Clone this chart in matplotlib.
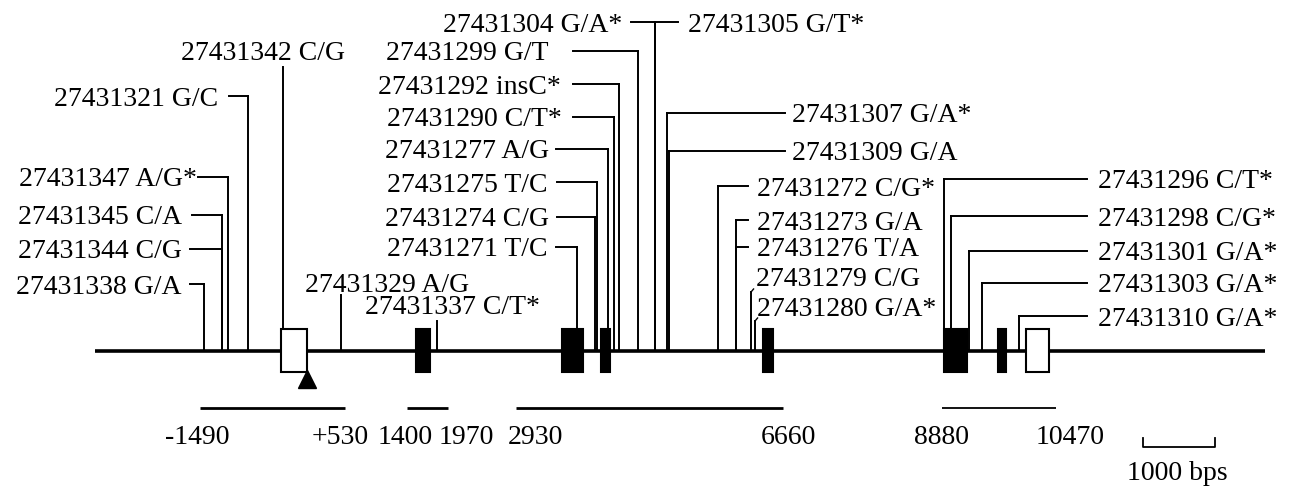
import matplotlib
matplotlib.use("Agg")
import matplotlib.pyplot as plt
from matplotlib.patches import Rectangle

# SNPs: dbSNP-style id + alleles, position along the gene in bp (0 = transcription start)
snp_labels = [
    "27431338 G/A", "27431344 C/G", "27431345 C/A", "27431347 A/G*", "27431321 G/C",
    "27431342 C/G", "27431329 A/G", "27431337 C/T*",
    "27431271 T/C", "27431274 C/G", "27431275 T/C", "27431277 A/G", "27431290 C/T*",
    "27431292 insC*", "27431299 G/T", "27431304 G/A*", "27431305 G/T*",
    "27431307 G/A*", "27431309 G/A", "27431272 C/G*", "27431273 G/A", "27431276 T/A",
    "27431279 C/G", "27431280 G/A*",
    "27431296 C/T*", "27431298 C/G*", "27431301 G/A*", "27431303 G/A*", "27431310 G/A*",
]
snp_pos = [
    -1434, -1182, -1182, -1098, -819,
    -330, 481, 1822,
    3778, 4030, 4058, 4212, 4296,
    4365, 4631, 4869, 4869,
    5036, 5064, 5748, 6000, 6000,
    6210, 6266,
    8900, 9004, 9256, 9437, 9954,
]

# exons (bp); open boxes are untranslated
exon_start = [-357, 1529, 3568, 4114, 6377, 8906, 9660, 10052]
exon_end = [5, 1725, 3861, 4238, 6516, 9227, 9772, 10374]
exon_coding = [False, True, True, True, True, True, True, False]

# sequenced regions
region_start = [-1490, 1400, 2930, 8880]
region_end = [530, 1970, 6660, 10470]
region_labels = ["-1490", "+530", "1400", "1970", "2930", "6660", "8880", "10470"]

gene_span = (-2957, 13391)
scale_len = 1000

# ---- layout (pixel rows, bp columns) ----
PX_PER_BP = 0.07157
BP0_PX = 306.6
LINE_Y = 352
BOX_TOP, BOX_BOT = 330, 373

# side, text y, line top y, elbow x (bp), text x (bp)
layout = [
    ('L', 285, 285, -1628, -1741),
    ('L', 250, 250, -1628, -1741),
    ('L', 216, 216, -1600, -1741),
    ('L', 178, 178, -1516, -1531),
    ('L', 97, 97, -1084, -1238),
    ('U', 52, 68, None, -608),
    ('U', 283, 296, None, 1123),
    ('U', 306, 322, None, 2031),
    ('L', 248, 248, 3485, 3359),
    ('L', 218, 218, 3498, 3387),
    ('L', 183, 183, 3498, 3359),
    ('L', 150, 150, 3485, 3387),
    ('L', 118, 118, 3722, 3569),
    ('L', 85, 85, 3722, 3555),
    ('L', 52, 52, 3722, 3373),
    ('L', 23, 23, 4533, 4405),
    ('R', 23, 23, 5189, 5329),
    ('R', 114, 114, 6684, 6782),
    ('R', 152, 152, 6684, 6782),
    ('R', 187, 187, 6168, 6293),
    ('R', 221, 221, 6168, 6293),
    ('R', 248, 248, 6168, 6293),
    ('H', 277, 293, None, 6278),
    ('H', 307, 322, None, 6292),
    ('R', 180, 180, 10903, 11057),
    ('R', 217, 217, 10903, 11057),
    ('R', 252, 252, 10903, 11057),
    ('R', 284, 284, 10903, 11057),
    ('R', 317, 317, 10903, 11057),
]
region_label_shift = [-3, -4, -2, 19, 19, 5, -1, 14]   # pixels

FONT = dict(family='Liberation Serif', fontsize=20, color='black')

fig = plt.figure(figsize=(12.91, 4.89), dpi=100)
ax = fig.add_axes([0, 0, 1, 1])
ax.set_xlim(-BP0_PX / PX_PER_BP, (1291 - BP0_PX) / PX_PER_BP)
ax.set_ylim(489, 0)
ax.axis('off')


def bottom_of(x):
    # stems stop at the top of an exon box if they land inside one
    for s, e in zip(exon_start, exon_end):
        if s < x < e:
            return BOX_TOP
    return LINE_Y


# gene backbone
ax.plot(gene_span, [LINE_Y, LINE_Y], color='k', lw=2.6, solid_capstyle='butt', zorder=2)

for s, e, coding in zip(exon_start, exon_end, exon_coding):
    ax.add_patch(Rectangle((s, BOX_TOP), e - s, BOX_BOT - BOX_TOP,
                           facecolor='k' if coding else 'white',
                           edgecolor='k', lw=1.5, zorder=3))

# transcription start
ax.plot([0], [380], marker='^', ms=13, color='k', zorder=3)

for lab, x, (side, ty, top, elbow, tx) in zip(snp_labels, snp_pos, layout):
    ax.plot([x, x], [top, bottom_of(x)], color='k', lw=1.4, zorder=1)
    if side in 'LR':
        ax.plot([elbow, x], [top, top], color='k', lw=1.4, zorder=1)
        ax.text(tx, ty + 2, lab, ha='right' if side == 'L' else 'left', va='center', **FONT)
    elif side == 'U':
        ax.text(tx, ty + 2, lab, ha='center', va='center', **FONT)
    else:
        ax.plot([x, x + 35], [top, top - 3], color='k', lw=1.0, zorder=1)
        ax.text(tx, ty + 2, lab, ha='left', va='center', **FONT)

# sequenced regions and their bounds
ends = []
for s, e in zip(region_start, region_end):
    ax.plot([s, e], [409, 409], color='k', lw=2.0 if e < 10000 else 1.3, solid_capstyle='butt')
    ends += [s, e]
for x, lab, dx in zip(ends, region_labels, region_label_shift):
    ax.annotate(lab, (x, 437), xytext=(dx, 0), textcoords='offset pixels',
                ha='center', va='center', **FONT)

# scale bar
sb0 = 11690
ax.plot([sb0, sb0, sb0 + scale_len, sb0 + scale_len], [439, 448, 448, 439],
        color='k', lw=1.3)
ax.text(sb0 + scale_len / 2 - 30, 474, f"{scale_len} bps", ha='center', va='center', **FONT)

fig.savefig("out.png", dpi=100)
